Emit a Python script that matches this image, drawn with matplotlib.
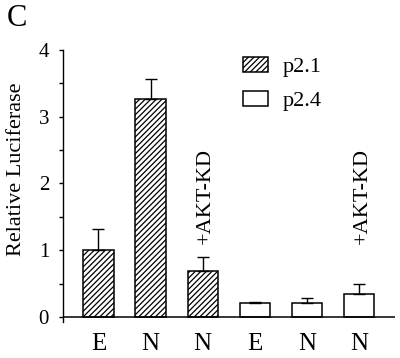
import matplotlib
matplotlib.use("Agg")
import matplotlib.pyplot as plt
import numpy as np
from matplotlib.patches import Patch

plt.rcParams['font.family'] = ['Liberation Serif', 'DejaVu Serif']
plt.rcParams['hatch.linewidth'] = 0.9

categories = ["E", "N", "N", "E", "N", "N"]
values = [1.00, 3.27, 0.69, 0.21, 0.205, 0.34]
errors = [0.32, 0.30, 0.21, 0.02, 0.085, 0.15]
series = ["p2.1", "p2.1", "p2.1", "p2.4", "p2.4", "p2.4"]
annotations = {2: "+AKT-KD", 5: "+AKT-KD"}

fig = plt.figure(figsize=(4.0, 3.58), dpi=100)
ax = fig.add_axes([0.1575, 0.1006, 0.83, 0.7597])

x = np.arange(len(values))
for i, (v, e, s) in enumerate(zip(values, errors, series)):
    hatch = '//////' if s == "p2.1" else None
    ax.bar(x[i], v, width=0.58, facecolor='white', edgecolor='black',
           linewidth=1.1, hatch=hatch, zorder=2)
    ax.errorbar(x[i], v, yerr=[[0], [e]], fmt='none', ecolor='black',
                elinewidth=1.0, capsize=4, capthick=1.0, zorder=3)

for i, t in annotations.items():
    ax.text(x[i] + 0.06, 1.1, t, rotation=90, ha='center', va='bottom',
            fontsize=16)

ax.axhline(0, color='black', linewidth=1.1, zorder=4)
ax.set_xlim(-0.68, 5.69)
ax.set_ylim(-0.075, 4)
ax.spines['top'].set_visible(False)
ax.spines['right'].set_visible(False)
ax.spines['bottom'].set_visible(False)
ax.spines['left'].set_linewidth(1.0)
ax.set_yticks([0, 1, 2, 3, 4])
ax.set_yticks([0.5, 1.5, 2.5, 3.5], minor=True)
ax.tick_params(axis='y', which='both', length=3, width=1.0, direction='out',
               labelsize=15, pad=7)
ax.set_xticks(x)
ax.set_xticklabels(categories, fontsize=18)
ax.tick_params(axis='x', length=0, pad=8)
ax.set_ylabel("Relative Luciferase", fontsize=16)
ax.yaxis.set_label_coords(-0.112, 0.56)

handles = [Patch(facecolor='white', edgecolor='black', hatch='//////', linewidth=1.1, label='p2.1'),
           Patch(facecolor='white', edgecolor='black', linewidth=1.1, label='p2.4')]
fig.legend(handles=handles, loc='upper left', bbox_to_anchor=(0.6075, 0.842),
           frameon=False, fontsize=16, handlelength=1.13, handleheight=0.72,
           handletextpad=0.65, labelspacing=0.6, borderpad=0, borderaxespad=0)

fig.text(0.018, 0.948, "C", fontsize=22, ha='left', va='center')

fig.savefig("out.png", dpi=100)
